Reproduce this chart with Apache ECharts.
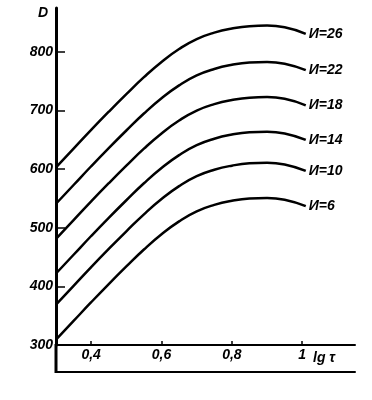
<!DOCTYPE html>
<html><head><meta charset="utf-8">
<script src="https://cdn.jsdelivr.net/npm/echarts@6/dist/echarts.min.js"></script>
<style>html,body{margin:0;padding:0;background:#fff}#c{width:372px;height:400px}</style>
</head><body><div id="c"></div>
<script>
const lgTau = [0.3, 0.35, 0.4, 0.45, 0.5, 0.55, 0.6, 0.65, 0.7, 0.75, 0.8, 0.85, 0.9, 0.95, 1.01];
const curveNames = ['И=26', 'И=22', 'И=18', 'И=14', 'И=10', 'И=6'];
const dI26 = [603, 635, 667, 698, 728, 757, 783, 805, 822, 833, 840, 844, 845, 842, 831];
const dI22 = [541, 573, 605, 636, 666, 695, 721, 743, 760, 771, 778, 782, 783, 780, 769];
const dI18 = [481, 513, 545, 576, 606, 635, 661, 683, 700, 711, 718, 722, 723, 720, 709];
const dI14 = [422, 454, 486, 517, 547, 576, 602, 624, 641, 652, 659, 663, 664, 661, 650];
const dI10 = [369, 401, 433, 464, 494, 523, 549, 571, 588, 599, 606, 610, 611, 608, 597];
const dI6  = [309, 341, 373, 404, 434, 463, 489, 511, 528, 539, 546, 550, 551, 548, 537];
const curves = [dI26, dI22, dI18, dI14, dI10, dI6];
const xTicks = [0.4, 0.6, 0.8, 1.0];
const xTickLabels = ['0,4', '0,6', '0,8', '1'];
const yTicks = [300, 400, 500, 600, 700, 800];

const font = {fontFamily: 'Liberation Sans', fontStyle: 'italic', fontWeight: 'bold', color: '#000'};
const chart = echarts.init(document.getElementById('c'), null, {renderer: 'canvas'});
chart.setOption({
  backgroundColor: '#fff',
  animation: false,
  grid: {left: 56, right: 17, top: 8, bottom: 55, containLabel: false},
  xAxis: [{
    type: 'value', min: 0.3, max: 1.15,
    name: 'lg τ', nameLocation: 'end', nameGap: -42,
    nameTextStyle: Object.assign({fontSize: 14, verticalAlign: 'top', padding: [6, 0, 0, 0]}, font),
    axisLine: {show: true, onZero: false, lineStyle: {color: '#000', width: 2}},
    axisTick: {show: true, inside: true, length: 4, customValues: xTicks, lineStyle: {color: '#000', width: 1.5}},
    axisLabel: Object.assign({show: true, fontSize: 14, margin: 3, customValues: xTicks,
      formatter: v => { const i = xTicks.findIndex(t => Math.abs(t - v) < 1e-6); return i >= 0 ? xTickLabels[i] : ''; }}, font),
    splitLine: {show: false}
  }, {
    type: 'value', min: 0.3, max: 1.15, position: 'bottom', offset: 27,
    axisLine: {show: true, onZero: false, lineStyle: {color: '#000', width: 2}},
    axisTick: {show: false}, axisLabel: {show: false}, splitLine: {show: false}
  }],
  yAxis: {
    type: 'value', min: 300, max: 875,
    name: 'D', nameLocation: 'end', nameGap: -12,
    nameTextStyle: Object.assign({fontSize: 14, align: 'right', padding: [0, 8, 0, 0]}, font),
    axisLine: {show: true, onZero: false, lineStyle: {color: '#000', width: 3}},
    axisTick: {show: true, inside: true, length: 9, customValues: yTicks.slice(1), lineStyle: {color: '#000', width: 1.5}},
    axisLabel: Object.assign({show: true, fontSize: 14, margin: 3, customValues: yTicks}, font),
    splitLine: {show: false}
  },
  graphic: [{type: 'line', shape: {x1: 56, y1: 344, x2: 56, y2: 373}, style: {stroke: '#000', lineWidth: 3}}],
  series: curves.map((arr, i) => ({
    type: 'line', name: curveNames[i], xAxisIndex: 0,
    data: lgTau.map((x, j) => [x, arr[j]]),
    smooth: true, symbol: 'none',
    lineStyle: {color: '#000', width: 2.5},
    endLabel: Object.assign({show: true, formatter: curveNames[i], fontSize: 14, distance: 3}, font)
  }))
});
</script></body></html>
